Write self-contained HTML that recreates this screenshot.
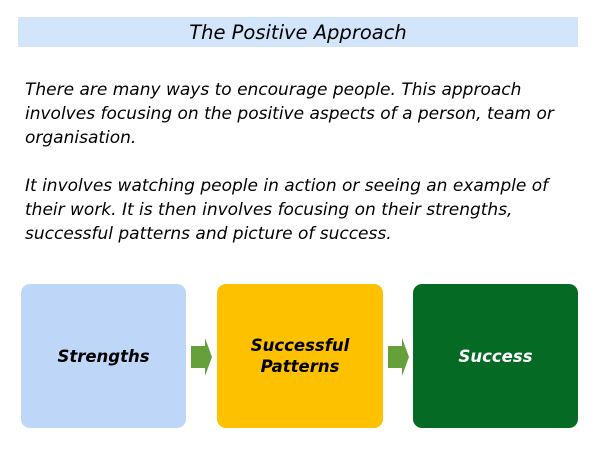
<!DOCTYPE html>
<html><head><style>
body{margin:0;width:600px;height:450px;background:#fff;position:relative;overflow:hidden;font-family:"DejaVu Sans","Liberation Sans",sans-serif;}
.t{position:absolute;left:18px;top:17px;width:560px;height:30px;background:#d3e5fb;text-align:center;font-style:italic;font-size:19.5px;line-height:31px;color:#000;}
.p{position:absolute;left:25px;width:580px;white-space:nowrap;font-style:italic;font-size:17px;line-height:24px;color:#000;}
.b{position:absolute;top:284px;height:144px;width:165px;border-radius:9px;display:flex;align-items:center;justify-content:center;text-align:center;font-style:italic;font-weight:bold;font-size:16.5px;line-height:21px;}
</style></head><body>
<div class="t">The Positive Approach</div>
<div class="p" style="top:78px">There are many ways to encourage people. This approach<br>involves focusing on the positive aspects of a person, team or<br>organisation.</div>
<div class="p" style="top:174px">It involves watching people in action or seeing an example of<br>their work. It is then involves focusing on their strengths,<br>successful patterns and picture of success.</div>
<div class="b" style="left:21px;background:#bed7f9;color:#000">Strengths</div>
<div class="b" style="left:217px;width:166px;background:#fdc100;color:#000">Successful<br>Patterns</div>
<div class="b" style="left:413px;background:#046a24;color:#fff">Success</div>
<svg style="position:absolute;left:0;top:0" width="600" height="450">
<polygon points="191,346 205,346 205,338 212,357 205,376 205,368 191,368" fill="#65a03a"/>
<polygon points="388,346 402,346 402,338 409,357 402,376 402,368 388,368" fill="#65a03a"/>
</svg>
</body></html>
